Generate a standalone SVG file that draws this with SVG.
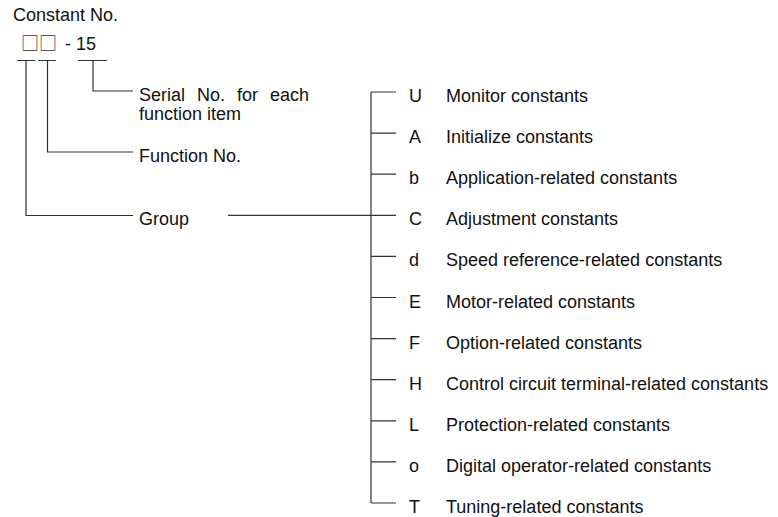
<svg xmlns="http://www.w3.org/2000/svg" width="778" height="517" viewBox="0 0 778 517">
<style>
text{font-family:"Liberation Sans",Arial,sans-serif;font-size:18px;fill:#111}
.box{font-family:"Noto Sans CJK JP","DejaVu Sans",sans-serif;fill:#333}
.ln{stroke:#333;stroke-width:1.2;fill:none}
</style>
<rect width="778" height="517" fill="#fff"/>
<g id="title">
<text x="13" y="21">Constant No.</text>
<text x="21" y="50"><tspan class="box">□□</tspan><tspan dx="3"> - 15</tspan></text>
</g>
<g id="connectors">
<path class="ln" d="M17 60.5H35M38 60.5H56M78 60.5H107"/>
<path class="ln" d="M93 60.5V91H133"/>
<path class="ln" d="M47.5 60.5V152H133"/>
<path class="ln" d="M26 60.5V215.5H133"/>
<path class="ln" d="M228 215.3H396"/>
<path class="ln" d="M371 92V503"/>
<path class="ln" d="M371 92H396M371 133.1H396M371 174.2H396M371 256.4H396M371 297.5H396M371 338.6H396M371 379.7H396M371 420.8H396M371 461.9H396M371 503H396"/>
</g>
<g id="serial"><text x="139" y="101" word-spacing="7">Serial No. for each</text><text x="139" y="120">function item</text></g>
<g id="function"><text x="139" y="162">Function No.</text></g>
<g id="group"><text x="139" y="225">Group</text></g>
<g id="U"><text x="409" y="102">U</text><text x="446" y="102">Monitor constants</text></g>
<g id="A"><text x="409" y="143.1">A</text><text x="446" y="143.1">Initialize constants</text></g>
<g id="b"><text x="409" y="184.2">b</text><text x="446" y="184.2">Application-related constants</text></g>
<g id="C"><text x="409" y="225.3">C</text><text x="446" y="225.3">Adjustment constants</text></g>
<g id="d"><text x="409" y="266.4">d</text><text x="446" y="266.4">Speed reference-related constants</text></g>
<g id="E"><text x="409" y="307.5">E</text><text x="446" y="307.5">Motor-related constants</text></g>
<g id="F"><text x="409" y="348.6">F</text><text x="446" y="348.6">Option-related constants</text></g>
<g id="H"><text x="409" y="389.7">H</text><text x="446" y="389.7">Control circuit terminal-related constants</text></g>
<g id="L"><text x="409" y="430.8">L</text><text x="446" y="430.8">Protection-related constants</text></g>
<g id="o"><text x="409" y="471.9">o</text><text x="446" y="471.9">Digital operator-related constants</text></g>
<g id="T"><text x="409" y="513">T</text><text x="446" y="513">Tuning-related constants</text></g>
</svg>
